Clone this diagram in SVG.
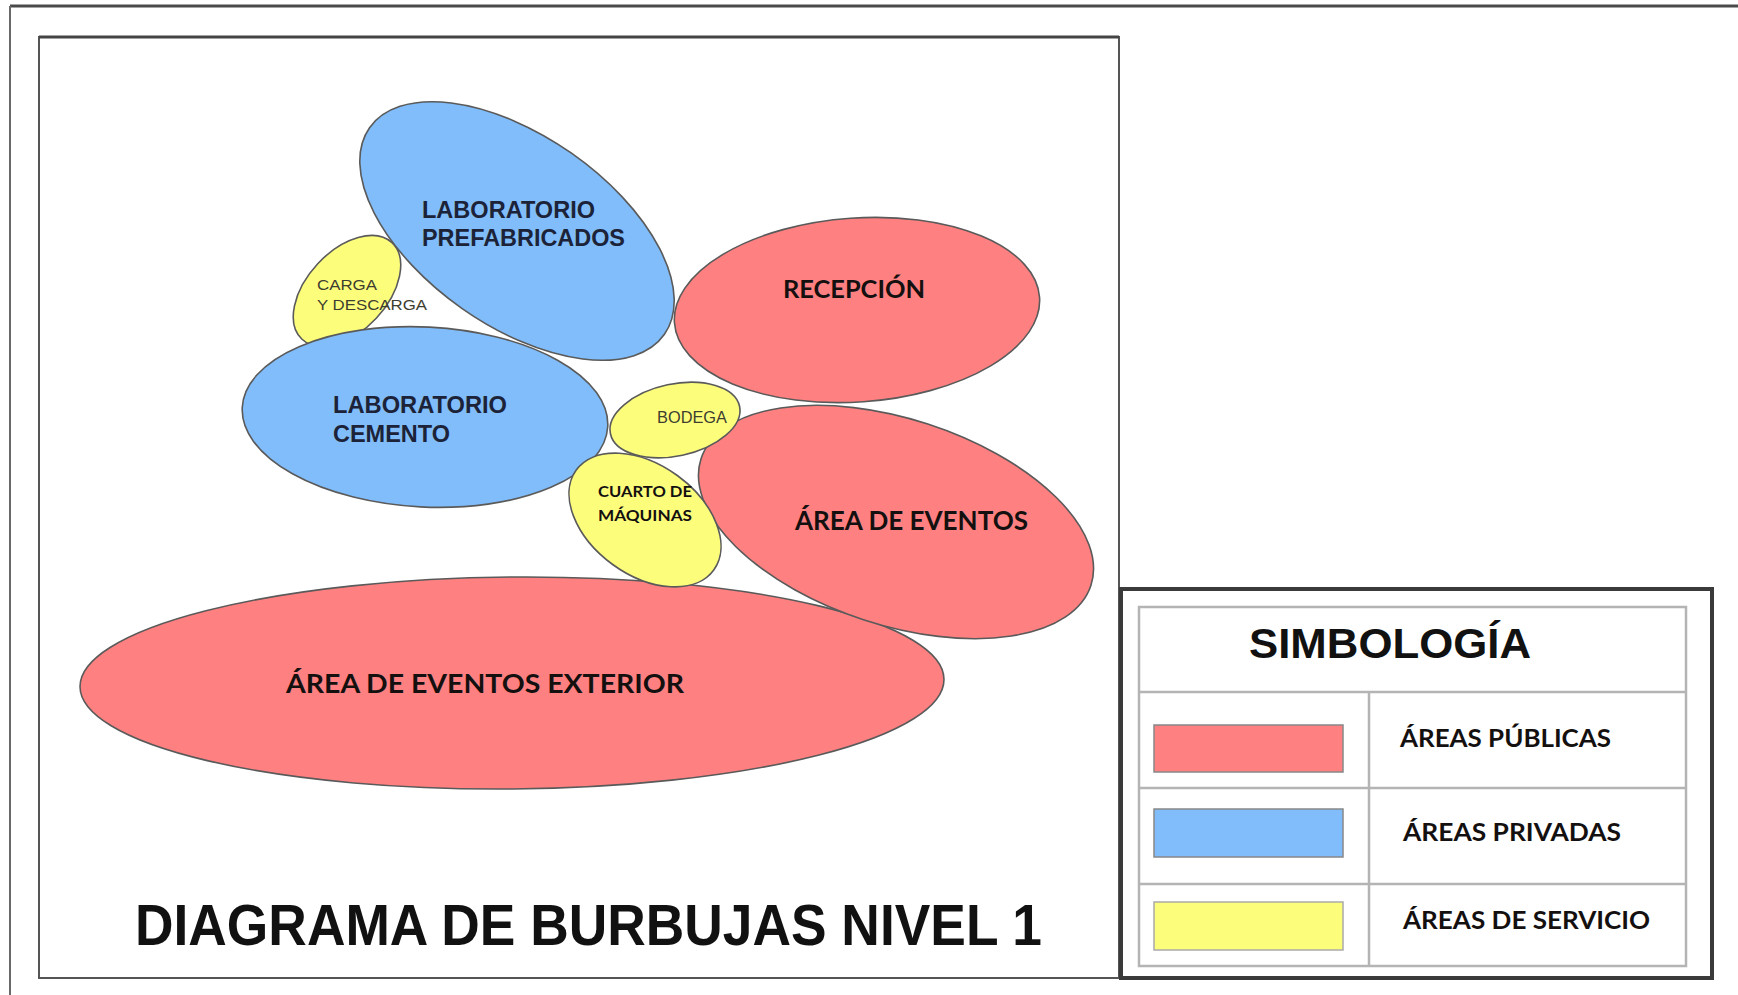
<svg xmlns="http://www.w3.org/2000/svg" width="1738" height="995" viewBox="0 0 1738 995">
<style>
.bub{stroke:#5a5a5a;stroke-width:1.6}
.pub{fill:#ff8080}
.pri{fill:#80bdfa}
.ser{fill:#fdfd7c}
.ar{font-family:"Liberation Sans",Arial,sans-serif}
.lb{font-family:Lato,"Open Sans",sans-serif;font-weight:700;fill:#141010}
.blue{font-weight:700;fill:#1c2338;font-size:24px}
.small{fill:#3d3d30;font-size:15.5px}
.grid{stroke:#b4b4b4;stroke-width:2.5;fill:none}
</style>
<rect x="0" y="0" width="1738" height="995" fill="#ffffff"/>
<g id="frame">
<line x1="10" y1="6" x2="1738" y2="6" stroke="#4a4a4a" stroke-width="3"/>
<line x1="10" y1="6" x2="10" y2="995" stroke="#6a6a6a" stroke-width="2"/>
<rect x="39" y="37" width="1080" height="941" fill="#ffffff" stroke="#555" stroke-width="2"/>
<line x1="39" y1="37" x2="1119" y2="37" stroke="#444" stroke-width="3"/>
</g>
<g id="connectors"/>
<g id="area-eventos-exterior">
<ellipse class="bub pub" cx="512" cy="683" rx="432" ry="106" transform="rotate(-0.5 512 683)"/>
<text class="lb" x="286" y="693" font-size="27" textLength="398" lengthAdjust="spacingAndGlyphs">ÁREA DE EVENTOS EXTERIOR</text>
</g>
<g id="area-eventos">
<ellipse class="bub pub" cx="896" cy="522" rx="205" ry="103" transform="rotate(18 896 522)"/>
<text class="lb" x="795" y="530" font-size="26" textLength="233" lengthAdjust="spacingAndGlyphs">ÁREA DE EVENTOS</text>
</g>
<g id="recepcion">
<ellipse class="bub pub" cx="857" cy="310" rx="183" ry="92" transform="rotate(-4 857 310)"/>
<text class="lb" x="783" y="298" font-size="25" textLength="142" lengthAdjust="spacingAndGlyphs">RECEPCIÓN</text>
</g>
<g id="carga-descarga">
<ellipse class="bub ser" cx="347" cy="291" rx="66" ry="40" transform="rotate(-47 347 291)"/>
</g>
<g id="laboratorio-prefabricados">
<ellipse class="bub pri" cx="517" cy="231" rx="180" ry="95" transform="rotate(35 517 231)"/>
<text class="ar blue" x="422" y="218" textLength="173" lengthAdjust="spacingAndGlyphs">LABORATORIO</text>
<text class="ar blue" x="422" y="246" textLength="203" lengthAdjust="spacingAndGlyphs">PREFABRICADOS</text>
</g>
<g id="laboratorio-cemento">
<ellipse class="bub pri" cx="425" cy="417" rx="183" ry="90" transform="rotate(3 425 417)"/>
<text class="ar blue" x="333" y="413" textLength="174" lengthAdjust="spacingAndGlyphs">LABORATORIO</text>
<text class="ar blue" x="333" y="442" textLength="117" lengthAdjust="spacingAndGlyphs">CEMENTO</text>
</g>
<g id="carga-descarga-label">
<text class="ar small" x="317" y="290" textLength="60" lengthAdjust="spacingAndGlyphs">CARGA</text>
<text class="ar small" x="317" y="310" textLength="110" lengthAdjust="spacingAndGlyphs">Y DESCARGA</text>
</g>
<g id="bodega">
<ellipse class="bub ser" cx="675" cy="420" rx="66" ry="36" transform="rotate(-12 675 420)"/>
<text class="ar" x="657" y="423" font-size="16" fill="#3d3d30" textLength="70" lengthAdjust="spacingAndGlyphs">BODEGA</text>
</g>
<g id="cuarto-maquinas">
<ellipse class="bub ser" cx="645" cy="520" rx="85" ry="55" transform="rotate(36 645 520)"/>
<text class="lb" x="598" y="497" font-size="15" textLength="94" lengthAdjust="spacingAndGlyphs">CUARTO DE</text>
<text class="lb" x="598" y="521" font-size="15" textLength="94" lengthAdjust="spacingAndGlyphs">MÁQUINAS</text>
</g>
<g id="title">
<text class="ar" x="135" y="945" font-size="57" font-weight="700" fill="#111" textLength="907" lengthAdjust="spacingAndGlyphs">DIAGRAMA DE BURBUJAS NIVEL 1</text>
</g>
<g id="legend">
<rect x="1121" y="589" width="591" height="389" fill="#ffffff" stroke="#3a3a3a" stroke-width="4"/>
<rect class="grid" x="1139" y="607" width="547" height="359"/>
<line class="grid" x1="1139" y1="692" x2="1686" y2="692"/>
<line class="grid" x1="1139" y1="788" x2="1686" y2="788"/>
<line class="grid" x1="1139" y1="884" x2="1686" y2="884"/>
<line class="grid" x1="1369" y1="692" x2="1369" y2="966"/>
<text class="ar" x="1249" y="658" font-size="42" font-weight="700" fill="#111" textLength="282" lengthAdjust="spacingAndGlyphs">SIMBOLOGÍA</text>
<rect x="1154" y="725" width="189" height="47" fill="#ff8080" stroke="#888" stroke-width="1.5"/>
<rect x="1154" y="809" width="189" height="48" fill="#80bdfa" stroke="#888" stroke-width="1.5"/>
<rect x="1154" y="902" width="189" height="48" fill="#fdfd7c" stroke="#aaa" stroke-width="1.5"/>
<text class="lb" x="1400" y="747" font-size="25" textLength="211" lengthAdjust="spacingAndGlyphs">ÁREAS PÚBLICAS</text>
<text class="lb" x="1403" y="841" font-size="25" textLength="218" lengthAdjust="spacingAndGlyphs">ÁREAS PRIVADAS</text>
<text class="lb" x="1403" y="929" font-size="25" textLength="247" lengthAdjust="spacingAndGlyphs">ÁREAS DE SERVICIO</text>
</g>
</svg>
